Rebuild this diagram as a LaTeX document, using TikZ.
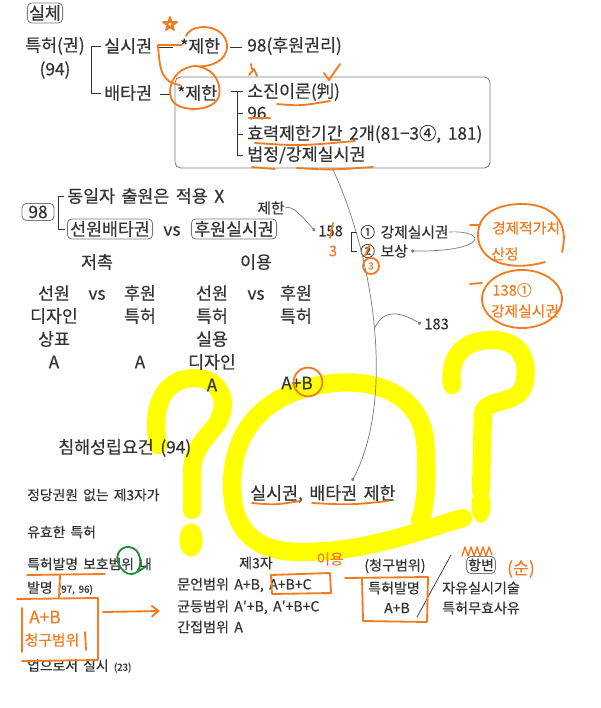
\documentclass[tikz,border=0pt]{standalone}
\usepackage{fontspec}
\setmainfont[WordSpace=1.7, FakeBold=0.35]{Noto Sans CJK KR}
\usepackage{xcolor}
\usepackage{tikz}
\usetikzlibrary{arrows.meta}

\definecolor{ink}{HTML}{333333}
\definecolor{boxgray}{HTML}{7A7A7A}
\definecolor{pencil}{HTML}{F27A1F}
\definecolor{marker}{HTML}{FFFF00}
\definecolor{leaf}{HTML}{1F8A3C}

\newcommand\szbig{\fontsize{12.3}{14}\selectfont}
\newcommand\szmid{\fontsize{10.5}{12.5}\selectfont}
\newcommand\szsm{\fontsize{10}{12}\selectfont}
\newcommand\szlow{\fontsize{9.8}{11.5}\selectfont}
\newcommand\sztiny{\fontsize{7}{8}\selectfont}

\begin{document}
\begin{tikzpicture}[x=0.025cm, y=-0.025cm,
	txt/.style={anchor=west, inner sep=0pt, text=ink, font=\szbig},
	ctr/.style={inner sep=0pt, text=ink, font=\szbig},
	rbox/.style={draw=boxgray, rounded corners=3pt, line width=0.6pt, inner xsep=2pt, inner ysep=1.5pt, text=ink, font=\szbig},
	bline/.style={draw=ink, line width=0.6pt},
	gline/.style={draw=boxgray, line width=0.5pt, -{Circle[length=2.4pt]}},
	pen/.style={draw=pencil, line width=1.3pt, line cap=round, line join=round},
	hand/.style={inner sep=0pt, text=pencil, font=\szmid},
	hl/.style={draw=marker, line width=13pt, line cap=round, line join=round}]

			\fill[white] (0,0) rectangle (600,708);
			\useasboundingbox (0,0) rectangle (600,708);

			% marker question marks
			\draw[hl] (158,445) .. controls (150,400) and (168,378) .. (195,378) .. controls (222,378) and (230,405) .. (216,425) .. controls (204,440) and (193,450) .. (192,470) -- (192,510);
			\fill[marker] (191,540) ellipse [x radius=0.29cm, y radius=0.42cm];
			\draw[hl] (463,518) .. controls (420,530) and (370,552) .. (300,552) .. controls (250,552) and (232,525) .. (232,485) .. controls (232,430) and (265,395) .. (320,385) .. controls (375,375) and (420,395) .. (425,440) .. controls (428,480) and (426,505) .. (420,520);
			\draw[hl] (452,385) .. controls (448,350) and (470,340) .. (492,340) .. controls (520,340) and (530,360) .. (524,385) .. controls (518,405) and (488,398) .. (483,412) -- (481,490);
			\fill[marker] (481,505) ellipse [x radius=0.24cm, y radius=0.45cm];

			% upper block
			\node[rbox, inner xsep=1.2pt] (silche) at (45,13) {실체};
			\node[txt] (patent) at (25,46) {특허(권)};
			\node[ctr] (p94) at (55,70) {(94)};
			\node[txt] (sisi) at (104,46) {실시권};
			\node[txt] (jh1) at (180,46) {*제한};
			\node[txt] (later) at (247,46) {98(후원권리)};
			\node[txt] (bae) at (104,93) {배타권};
			\node[txt] (jh2) at (177,93) {*제한};
			\node[txt] (l1) at (247,92) {소진이론(判)};
			\node[txt] (l2) at (247,113) {96};
			\node[txt] (l3) at (247,134) {효력제한기간 2개(81−3④, 181)};
			\node[txt] (l4) at (247,155) {법정/강제실시권};
			\node[draw=boxgray, rounded corners=4pt, line width=0.6pt, inner sep=0pt, minimum width=7.875cm, minimum height=2.275cm] (cbox) at (332.5,122.5) {};

			\draw[bline] (sisi.west) ++(-3,0) -- ++(-10,0) |- ([shift={(-3,0)}]bae.west);
			\draw[bline] ([shift={(6,1)}]sisi.east) -- ([shift={(-7,1)}]jh1.west);
			\draw[bline] ([shift={(10,1)}]jh1.east) -- ([shift={(-5,1)}]later.west);
			\draw[bline] ([shift={(8,1)}]bae.east) -- ([shift={(-6,1)}]jh2.west);
			\draw[bline] ([shift={(-16,-1)}]l1.west) -- ([shift={(-4,-1)}]l1.west);
			\draw[bline] ([shift={(-10,-1)}]l1.west) |- ([shift={(-4,0)}]l4.west);
			\foreach \n in {l2,l3}
				\draw[bline] ([shift={(-10,0)}]\n.west) -- ([shift={(-4,0)}]\n.west);

			% 98
			\node[rbox, inner xsep=4.5pt] (n98) at (38,212) {98};
			\node[txt] (same) at (67,196) {동일자 출원은 적용 X};
			\node[rbox] (prior) at (110,229) {선원배타권};
			\node[ctr] (vs1) at (172,231) {vs};
			\node[rbox] (later2) at (234,229) {후원실시권};
			\draw[bline] ([shift={(-3,0)}]same.west) -- ++(-6,0) |- ([shift={(-2,0)}]prior.west);

			\node[ctr, font=\szmid] (jh3) at (271,208) {제한};
			\node[txt, font=\szmid] (n158) at (318,231) {158};
			\node[txt, font=\szmid] (c1) at (360,232) {① 강제실시권};
			\node[txt, font=\szmid] (c2) at (360,251) {② 보상};
			\node[txt, font=\szmid] (n183) at (424,324) {183};
			\draw[bline] ([shift={(-3,0)}]c1.west) -- ++(-6,0) |- ([shift={(-3,0)}]c2.west);

			\node[ctr] (conf) at (97,262) {저촉};
			\node[ctr] (use) at (256,262) {이용};
			\foreach \t [count=\i] in {선원,디자인,상표,A}
				\node[ctr] (pa\i) at (54,270+23*\i) {\t};
			\node[ctr] (vs2) at (97,295) {vs};
			\foreach \t [count=\i] in {후원,특허}
				\node[ctr] (pb\i) at (140,270+23*\i) {\t};
			\node[ctr] (pb3) at (140,362) {A};
			\foreach \t [count=\i] in {선원,특허,실용,디자인,A}
				\node[ctr] (pc\i) at (212,270+23*\i) {\t};
			\node[ctr] (vs3) at (256,295) {vs};
			\foreach \t [count=\i] in {후원,특허}
				\node[ctr] (pd\i) at (296,270+23*\i) {\t};
			\node[ctr] (pd3) at (297,383) {A+B};

			% lower block
			\node[txt] (req) at (58,448) {침해성립요건 (94)};
			\node[txt, font=\szlow] (r1) at (27,495) {정당권원 없는 제3자가};
			\node[txt] (limit) at (250,494) {실시권, 배타권 제한};
			\node[txt, font=\szlow] (r2) at (27,532) {유효한 특허};
			\node[txt, font=\szlow] (r3) at (27,564) {특허발명 보호범위 내};
			\node[txt, font=\szlow] (r4) at (27,588) {발명 {\sztiny(97, 96)}};
			\node[txt, font=\szlow] (r5) at (27,666) {업으로서 실시 {\sztiny(23)}};
			\node[ctr, font=\szsm] (third) at (256,563) {제3자};
			\node[txt, font=\szsm] (s1) at (177,585) {문언범위 A+B, A+B+C};
			\node[txt, font=\szsm] (s2) at (177,607) {균등범위 A′+B, A′+B+C};
			\node[txt, font=\szsm] (s3) at (177,627) {간접범위 A};
			\node[ctr, font=\szsm] (claim) at (395,566) {(청구범위)};
			\node[ctr, font=\szsm] (inv) at (394,588) {특허발명};
			\node[ctr, font=\szsm] (ab) at (397,608) {A+B};
			\node[rbox, font=\szsm, inner xsep=1pt] (def) at (481,565) {항변};
			\node[txt, font=\szsm] (d1) at (442,588) {자유실시기술};
			\node[txt, font=\szsm] (d2) at (442,608) {특허무효사유};
			\draw[bline, line width=0.5pt] (451,555) -- (417,617);

			% grey pointers
			\coordinate (limtip) at (352,481);
			\draw[gline] (jh3.east) .. controls (292,205) and (300,214) .. ([shift={(-3,0)}]n158.west);
			\draw[gline] (c1.east) .. controls (488,230) and (488,252) .. ([shift={(3,0)}]c2.east);
			\draw[gline] (cbox.south) .. controls (375,260) and (395,400) .. (limtip) coordinate[pos=0.5] (br);
			\draw[gline] (br) .. controls (384,308) and (400,312) .. ([shift={(-3,0)}]n183.west);

			% orange pen
			\draw[pen] (166,30) -- (170,17) -- (174,30) -- (163,22) -- (177,22) -- cycle;
			\draw[pen] (186,36) .. controls (192,22) and (225,24) .. (227,45) .. controls (228,62) and (208,68) .. (195,66) .. controls (176,68) and (167,84) .. (171,98) .. controls (176,113) and (214,113) .. (219,96) .. controls (222,80) and (211,67) .. (195,66);
			\draw[pen] (158,45) -- (182,45) (158,46) .. controls (160,70) and (161,82) .. (180,85);
			\draw[pen] (249,75) -- (254,69) -- (257,76) (252,69) -- (251,64);
			\draw[pen] (324,73) -- (329,80) -- (340,64);
			\draw[pen] (277,104) .. controls (300,106) .. (330,101);
			\draw[pen] (249,118) -- (270,118);
			\draw[pen] (255,143) .. controls (300,146) .. (355,141);
			\draw[pen] (252,167) -- (275,169);
			\draw[pen] (297,168) .. controls (330,170) .. (373,167);
			\draw[pen] (333,223) -- (330,238);
			\node[hand] (h3) at (333,251) {3};
			\draw[pen] (370,244) -- (365,256);
			\draw[pen] (371,266) circle [radius=0.2cm];
			\node[hand, font=\sztiny] (h3c) at (371,266) {3};

			\draw[pen] (470,225) -- (480,225);
			\draw[pen] (545,262) .. controls (510,272) and (478,262) .. (478,235) .. controls (478,212) and (500,204) .. (522,204) .. controls (552,204) and (570,222) .. (562,252);
			\node[hand] (hw3) at (526,228) {경제적가치};
			\node[hand] (hw4) at (505,254) {산정};
			\draw[pen] (470,284) -- (482,283);
			\draw[pen] (522,299) ellipse [x radius=1cm, y radius=0.725cm];
			\node[hand] (hw5) at (512,290) {138①};
			\node[hand] (hw6) at (525,311) {강제실시권};

			\draw[pen] (308,382) circle [radius=0.36cm];
			\draw[pen] (252,503) .. controls (275,505) .. (300,501);
			\draw[pen] (312,503) .. controls (350,505) .. (388,501);

			\draw[pen] (27,575) -- (105,574) (60,575) -- (59,598);
			\draw[pen] (17,599) -- (98,598) -- (98,660) -- (22,661) (22,608) -- (22,652) (85,632) -- (86,650);
			\node[hand, font=\szbig] (hw1) at (45,617) {A+B};
			\node[hand] (hw2) at (52,640) {청구범위};
			\coordinate (hwE) at (103,612);
			\coordinate (hwT) at (160,611);
			\draw[pen, -{Straight Barb[length=5pt, width=8pt]}] (hwE) -- (hwT);
			\draw[pen] (271,575) -- (330,573) -- (331,593) -- (272,594) -- cycle;
			\node[hand] (hyong) at (330,559) {이용};
			\draw[pen] (345,578) -- (428,577) -- (427,622) -- (363,621) -- (362,578);
			\draw[pen, line width=1pt] (462,556) -- (465,547) -- (468,556) -- (471,547) -- (474,556) -- (477,547) -- (480,556) -- (483,547) -- (486,556) -- (489,547) -- (492,555);
			\node[hand, font=\szbig] (hsun) at (521,569) {(순)};

			\draw[pen, draw=leaf] (121,568) .. controls (113,558) and (119,546) .. (129,547) .. controls (141,548) and (143,565) .. (137,572) .. controls (131,576) and (125,574) .. (121,568) (137,572) -- (147,566);
		\end{tikzpicture}
\end{document}
